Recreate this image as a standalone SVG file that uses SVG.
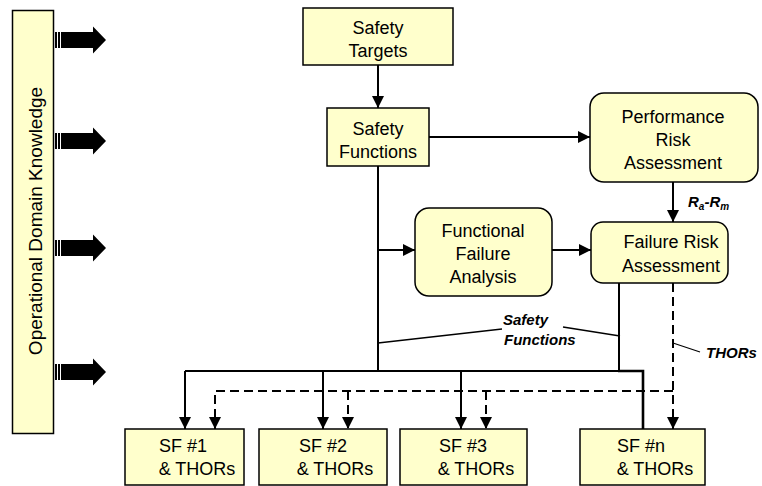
<svg xmlns="http://www.w3.org/2000/svg" width="762" height="486" viewBox="0 0 762 486">
  <style>
    .box { fill: #FFFFCC; stroke: #000; stroke-width: 1.5; }
    .t { font-family: "Liberation Sans", Arial, sans-serif; font-size: 18px; fill: #000; text-anchor: middle; }
    .lbl { font-family: "Liberation Sans", Arial, sans-serif; font-size: 15px; font-style: italic; font-weight: bold; fill: #000; }
    .ln { fill: none; stroke: #000; stroke-width: 2; }
    .dash { fill: none; stroke: #000; stroke-width: 2; stroke-dasharray: 9 5; }
    .thin { fill: none; stroke: #000; stroke-width: 1.3; }
    .blk { fill: #000; }
  </style>
  <defs>
    <marker id="ah" viewBox="0 0 10 10" refX="10" refY="5" markerWidth="6" markerHeight="6" orient="auto" markerUnits="strokeWidth">
      <path d="M0,0 L10,5 L0,10 Z" fill="#000"/>
    </marker>
    <!-- block arrow used for the knowledge inputs -->
    <g id="bigArrow">
      <rect x="55" y="-8" width="2" height="16" class="blk"/>
      <rect x="58" y="-8" width="2" height="16" class="blk"/>
      <path d="M61,-8 H93 V-13.5 L106,0 L93,13.5 V8 H61 Z" class="blk"/>
    </g>
  </defs>

  <g id="operational-domain-knowledge">
    <rect class="box" x="12.5" y="10.5" width="41" height="423"/>
    <text class="t" style="font-size:19px" transform="translate(42,221) rotate(-90)">Operational Domain Knowledge</text>
  </g>

  <g id="knowledge-arrows">
    <use href="#bigArrow" y="40"/>
    <use href="#bigArrow" y="141"/>
    <use href="#bigArrow" y="248"/>
    <use href="#bigArrow" y="372"/>
  </g>

  <g id="connectors">
    <!-- targets to functions -->
    <path class="ln" d="M378,65 V108" marker-end="url(#ah)"/>
    <!-- functions to performance risk -->
    <path class="ln" d="M429,137 H590" marker-end="url(#ah)"/>
    <!-- performance risk to failure risk -->
    <path class="ln" d="M673,182 V222" marker-end="url(#ah)"/>
    <!-- functions trunk -->
    <path class="ln" d="M378,166 V371"/>
    <path class="ln" d="M378,250 H415" marker-end="url(#ah)"/>
    <path class="ln" d="M552,250 H591" marker-end="url(#ah)"/>
    <!-- failure risk down to the bus -->
    <path class="ln" d="M619,283 V371"/>
    <!-- safety function bus -->
    <path class="ln" d="M185,371 V429" marker-end="url(#ah)"/>
    <path class="ln" d="M185,371 H620"/>
    <path class="ln" d="M323,371 V429" marker-end="url(#ah)"/>
    <path class="ln" d="M461,371 V429" marker-end="url(#ah)"/>
    <path class="ln" d="M618,371 H643 V429" style="stroke-width:2.6"/>
    <!-- THOR bus -->
    <path class="dash" d="M673,283 V429" marker-end="url(#ah)"/>
    <path class="dash" d="M673,391 H215 V429" marker-end="url(#ah)"/>
    <path class="dash" d="M348,391 V429" marker-end="url(#ah)"/>
    <path class="dash" d="M486,391 V429" marker-end="url(#ah)"/>
    <!-- label leaders -->
    <path class="thin" d="M502,329 L378,343"/>
    <path class="thin" d="M563,327 L620,336"/>
    <path class="thin" d="M673,343 L700,352"/>
  </g>

  <g id="labels">
    <text class="lbl" x="503" y="325">Safety</text>
    <text class="lbl" x="504" y="345">Functions</text>
    <text class="lbl" x="706" y="358">THORs</text>
    <text class="lbl" x="688" y="207">R<tspan font-size="10" dy="3">a</tspan><tspan dy="-3">-R</tspan><tspan font-size="10" dy="3">m</tspan></text>
  </g>

  <g id="safety-targets">
    <rect class="box" x="303" y="8" width="150" height="57"/>
    <text class="t" x="378" y="34">Safety</text>
    <text class="t" x="378" y="57">Targets</text>
  </g>

  <g id="safety-functions">
    <rect class="box" x="327" y="108" width="102" height="58"/>
    <text class="t" x="378" y="135">Safety</text>
    <text class="t" x="378" y="158">Functions</text>
  </g>

  <g id="performance-risk-assessment">
    <rect class="box" x="590" y="93" width="168" height="89" rx="14"/>
    <text class="t" x="673" y="123">Performance</text>
    <text class="t" x="673" y="146">Risk</text>
    <text class="t" x="673" y="169">Assessment</text>
  </g>

  <g id="functional-failure-analysis">
    <rect class="box" x="415" y="208" width="137" height="88" rx="14"/>
    <text class="t" x="483" y="237">Functional</text>
    <text class="t" x="483" y="260">Failure</text>
    <text class="t" x="483" y="283">Analysis</text>
  </g>

  <g id="failure-risk-assessment">
    <rect class="box" x="591" y="222" width="137" height="61" rx="12"/>
    <text class="t" x="671" y="248">Failure Risk</text>
    <text class="t" x="671" y="272">Assessment</text>
  </g>

  <g id="sf-1">
    <rect class="box" x="125" y="429" width="119" height="56"/>
    <text class="t" x="183" y="452">SF #1</text>
    <text class="t" x="197" y="475">&amp; THORs</text>
  </g>

  <g id="sf-2">
    <rect class="box" x="259" y="429" width="128" height="56"/>
    <text class="t" x="323" y="452">SF #2</text>
    <text class="t" x="335" y="475">&amp; THORs</text>
  </g>

  <g id="sf-3">
    <rect class="box" x="400" y="429" width="127" height="56"/>
    <text class="t" x="463" y="452">SF #3</text>
    <text class="t" x="476" y="475">&amp; THORs</text>
  </g>

  <g id="sf-n">
    <rect class="box" x="580" y="429" width="125" height="56"/>
    <text class="t" x="641" y="452">SF #n</text>
    <text class="t" x="655" y="475">&amp; THORs</text>
  </g>
</svg>
